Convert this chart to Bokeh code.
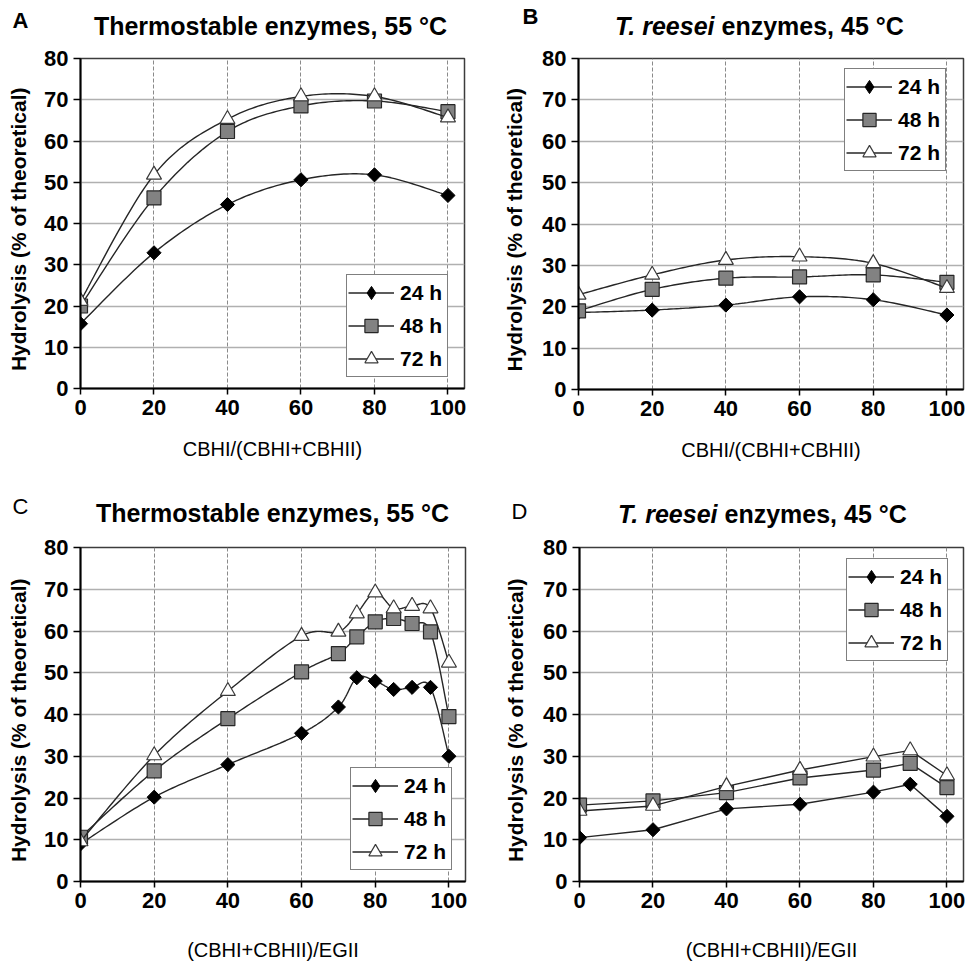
import math

from bokeh.embed import file_html
from bokeh.layouts import column, row
from bokeh.models import FixedTicker, Label, Legend, LegendItem, Range1d
from bokeh.plotting import figure
from bokeh.resources import INLINE

# ---- data -------------------------------------------------------------
ratio_ab = [0, 20, 40, 60, 80, 100]

a_24 = [15.7, 32.9, 44.6, 50.6, 51.8, 46.8]
a_48 = [20.0, 46.2, 62.3, 68.5, 69.7, 67.1]
a_72 = [21.2, 51.8, 65.3, 70.8, 70.8, 65.7]

b_24 = [18.6, 19.2, 20.4, 22.4, 21.7, 18.0]
b_48 = [19.0, 24.2, 26.9, 27.2, 27.7, 25.9]
b_72 = [22.9, 27.7, 31.3, 32.1, 30.5, 24.5]

ratio_c = [0, 20, 40, 60, 70, 75, 80, 85, 90, 95, 100]
c_24 = [9.0, 20.2, 28.0, 35.5, 41.8, 48.8, 48.0, 46.0, 46.5, 46.5, 30.0]
c_48 = [10.6, 26.5, 39.0, 50.2, 54.6, 58.6, 62.2, 63.0, 61.8, 59.8, 39.5]
c_72 = [9.6, 30.2, 45.6, 58.8, 59.8, 64.2, 69.2, 65.4, 66.0, 65.4, 52.4]

ratio_d = [0, 20, 40, 60, 80, 90, 100]
d_24 = [10.5, 12.4, 17.4, 18.5, 21.4, 23.3, 15.6]
d_48 = [18.3, 19.3, 21.3, 24.8, 26.7, 28.3, 22.5]
d_72 = [16.9, 18.1, 22.8, 26.7, 29.9, 31.4, 25.4]

series_labels = ["24 h", "48 h", "72 h"]
x_ticks = [0, 20, 40, 60, 80, 100]
y_ticks = [0, 10, 20, 30, 40, 50, 60, 70, 80]

FONT = "Liberation Sans"
LINE_COLOR = "#262626"


def smooth(xs, ys, steps=24):
    """Cubic Bezier smoothing through every point (spreadsheet-style)."""
    pts = list(zip(xs, ys))
    n = len(pts)
    out_x, out_y = [pts[0][0]], [pts[0][1]]
    for i in range(n - 1):
        p0 = pts[i - 1] if i > 0 else pts[i]
        p1 = pts[i]
        p2 = pts[i + 1]
        p3 = pts[i + 2] if i + 2 < n else pts[i + 1]
        c1 = (p1[0] + (p2[0] - p0[0]) / 6.0, p1[1] + (p2[1] - p0[1]) / 6.0)
        c2 = (p2[0] - (p3[0] - p1[0]) / 6.0, p2[1] - (p3[1] - p1[1]) / 6.0)
        for k in range(1, steps + 1):
            t = k / steps
            u = 1 - t
            out_x.append(u**3 * p1[0] + 3 * u * u * t * c1[0] + 3 * u * t * t * c2[0] + t**3 * p2[0])
            out_y.append(u**3 * p1[1] + 3 * u * u * t * c1[1] + 3 * u * t * t * c2[1] + t**3 * p2[1])
    return out_x, out_y


def header(height, pieces):
    """A strip above a row of panels holding the panel letters and headings.
    Its coordinates are plain pixels, origin top-left."""
    h = figure(width=968, height=height, x_range=Range1d(0, 968),
               y_range=Range1d(height, 0), x_axis_type=None, y_axis_type=None,
               min_border=0, output_backend="svg", toolbar_location=None,
               title=None)
    h.outline_line_color = None
    h.grid.visible = False
    h.background_fill_color = "white"
    h.border_fill_color = "white"
    for text, x, y, size, style, align in pieces:
        h.add_layout(Label(x=x, y=y, text=text, text_font=FONT,
                           text_font_size=size, text_font_style=style,
                           text_color="black", text_align=align,
                           text_baseline="alphabetic"))
    return h


def make_panel(xs, series, smoothed, frame, xlabel, legend_loc,
               xlabel_standoff, ylabel_standoff):
    fw, fh, bl, br, bt, bb = frame
    p = figure(frame_width=fw, frame_height=fh,
               min_border_left=bl, min_border_right=br,
               min_border_top=bt, min_border_bottom=bb,
               x_range=Range1d(0, 104.5), y_range=Range1d(0, 80),
               output_backend="svg", toolbar_location=None, title=None)
    p.background_fill_color = "white"
    p.border_fill_color = "white"
    p.outline_line_color = "#3c3c3c"
    p.outline_line_width = 1.5

    # axes
    for ax in (p.xaxis[0], p.yaxis[0]):
        ax.axis_line_color = "black"
        ax.axis_line_width = 2
        ax.major_tick_line_color = "black"
        ax.major_tick_line_width = 1.5
        ax.major_tick_in = 0
        ax.minor_tick_line_color = None
        ax.major_label_text_font = FONT
        ax.major_label_text_font_style = "bold"
        ax.major_label_text_font_size = "22px"
        ax.major_label_text_color = "black"
    p.xaxis.ticker = FixedTicker(ticks=x_ticks)
    p.yaxis.ticker = FixedTicker(ticks=y_ticks)
    p.xaxis.major_tick_out = 6
    p.yaxis.major_tick_out = 7
    p.xaxis.major_label_standoff = 5
    p.yaxis.major_label_standoff = 5

    p.xaxis.axis_label = xlabel
    p.xaxis.axis_label_text_font = FONT
    p.xaxis.axis_label_text_font_style = "normal"
    p.xaxis.axis_label_text_font_size = "20px"
    p.xaxis.axis_label_text_color = "black"
    p.xaxis.axis_label_standoff = xlabel_standoff

    p.yaxis.axis_label = "Hydrolysis  (%  of theoretical)"
    p.yaxis.axis_label_text_font = FONT
    p.yaxis.axis_label_text_font_style = "bold"
    p.yaxis.axis_label_text_font_size = "21px"
    p.yaxis.axis_label_text_color = "black"
    p.yaxis.axis_label_standoff = ylabel_standoff

    # grid
    p.xgrid.ticker = FixedTicker(ticks=x_ticks)
    p.ygrid.ticker = FixedTicker(ticks=y_ticks)
    p.xgrid.grid_line_color = "#8a8a8a"
    p.xgrid.grid_line_dash = "4 2"
    p.xgrid.grid_line_width = 1
    p.ygrid.grid_line_color = "#b0b0b0"
    p.ygrid.grid_line_width = 1.5

    styles = [
        dict(marker="square", angle=math.pi / 4, size=10, fill_color="black",
             line_color="black", line_width=1),
        dict(marker="square", angle=0, size=14, fill_color="#828282",
             line_color="#262626", line_width=1.2),
        dict(marker="triangle", angle=0, size=15, fill_color="white",
             line_color="#3a3a3a", line_width=1.2),
    ]

    items = []
    for ys, st, lab in zip(series, styles, series_labels):
        if smoothed:
            lx, ly = smooth(xs, ys)
        else:
            lx, ly = xs, ys
        lr = p.line(lx, ly, line_color=LINE_COLOR, line_width=1.4)
        sr = p.scatter(xs, ys, **st)
        if st["angle"]:
            # legend swatch for the rotated-square series
            proxy = p.scatter([float("nan")], [float("nan")], marker="diamond",
                              fill_color="black", line_color="black", size=10)
            items.append(LegendItem(label=lab, renderers=[lr, proxy]))
        else:
            items.append(LegendItem(label=lab, renderers=[lr, sr]))

    legend = Legend(items=items, location=legend_loc)
    legend.label_text_font = FONT
    legend.label_text_font_style = "bold"
    legend.label_text_font_size = "21px"
    legend.label_text_color = "black"
    legend.glyph_width = 46
    legend.glyph_height = 33
    legend.label_height = 33
    legend.label_width = 46
    legend.label_standoff = 6
    legend.padding = 1
    legend.spacing = 0
    legend.margin = 0
    legend.border_line_color = "black"
    legend.border_line_width = 1.5
    legend.background_fill_color = "white"
    legend.background_fill_alpha = 1
    p.add_layout(legend, "center")
    return p


# letters and headings: (text, x, y, size, style, align)
top_header = header(44, [
    ("A", 12, 20, "22px", "bold", "left"),
    ("Thermostable enzymes, 55 \u00b0C", 270, 25, "25px", "bold", "center"),
    ("B", 522, 16, "22px", "bold", "left"),
    ("T. reesei", 714, 25, "25px", "bold italic", "right"),
    ("enzymes, 45 \u00b0C", 721, 25, "25px", "bold", "left"),
])

bottom_header = header(50, [
    ("C", 12, 26, "22px", "normal", "left"),
    ("Thermostable enzymes, 55 \u00b0C", 272, 32, "25px", "bold", "center"),
    ("D", 511, 31, "22px", "normal", "left"),
    ("T. reesei", 717, 33, "25px", "bold italic", "right"),
    ("enzymes, 45 \u00b0C", 724, 33, "25px", "bold", "left"),
])

pa = make_panel(ratio_ab, [a_24, a_48, a_72], True,
                (384, 330, 80, 20, 13, 93), "CBHI/(CBHI+CBHII)",
                (266, 11), 20, 11)

pb = make_panel(ratio_ab, [b_24, b_48, b_72], True,
                (385, 331, 94, 5, 14, 91), "CBHI/(CBHI+CBHII)",
                (266, 218), 20, 13)

pc = make_panel(ratio_c, [c_24, c_48, c_72], True,
                (385, 334, 80, 19, 17, 80), "(CBHI+CBHII)/EGII",
                (270, 11), 28, 11)

pd_ = make_panel(ratio_d, [d_24, d_48, d_72], False,
                 (384, 334, 95, 5, 16, 81), "(CBHI+CBHII)/EGII",
                 (267, 220), 28, 13)

layout = column(top_header, row(pa, pb), bottom_header, row(pc, pd_))

with open("out.html", "w") as f:
    f.write(file_html(layout, INLINE))
